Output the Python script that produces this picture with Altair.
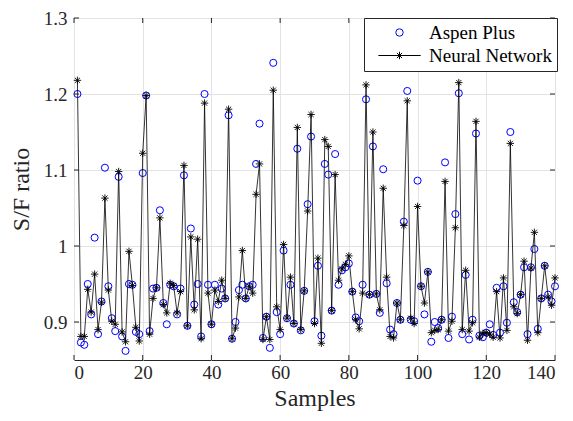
import altair as alt
import pandas as pd

samples = list(range(1, 141))

aspen = [1.200, 0.873, 0.870, 0.950, 0.910, 1.011, 0.884, 0.927, 1.103, 0.947,
         0.905, 0.888, 1.091, 0.881, 0.862, 0.950, 0.949, 0.887, 0.884, 1.096,
         1.198, 0.888, 0.944, 0.945, 1.047, 0.925, 0.897, 0.949, 0.947, 0.910,
         0.944, 1.093, 0.895, 1.023, 0.923, 0.950, 0.881, 1.200, 0.949, 0.897,
         0.949, 0.923, 0.944, 0.931, 1.172, 0.878, 0.900, 0.942, 0.949, 0.931,
         0.947, 0.949, 1.108, 1.161, 0.879, 0.907, 0.866, 1.241, 0.913, 0.884,
         0.994, 0.905, 0.949, 0.898, 1.128, 0.889, 0.941, 1.055, 1.144, 0.901,
         0.974, 0.882, 1.108, 1.094, 0.915, 1.121, 0.949, 0.968, 0.972, 0.977,
         0.940, 0.906, 0.901, 0.949, 1.193, 0.936, 1.131, 0.937, 0.912, 1.101,
         0.951, 0.890, 0.884, 0.925, 0.903, 1.032, 1.204, 0.903, 0.901, 1.086,
         0.947, 0.910, 0.966, 0.874, 0.900, 0.892, 0.903, 1.110, 0.879, 0.907,
         1.042, 1.201, 0.884, 0.962, 0.877, 0.903, 1.148, 0.882, 0.880, 0.886,
         0.897, 0.883, 0.945, 0.886, 0.947, 0.899, 1.150, 0.926, 0.913, 0.936,
         0.972, 0.884, 0.972, 0.996, 0.891, 0.931, 0.974, 0.936, 0.927, 0.947]

neural = [1.218, 0.881, 0.881, 0.943, 0.913, 0.963, 0.890, 0.926, 1.063, 0.942,
          0.901, 0.897, 1.098, 0.887, 0.874, 0.993, 0.948, 0.893, 0.875, 1.122,
          1.198, 0.884, 0.931, 0.945, 1.037, 0.923, 0.912, 0.951, 0.948, 0.912,
          0.940, 1.106, 0.895, 1.012, 0.916, 1.009, 0.878, 1.188, 0.938, 0.897,
          0.942, 0.927, 0.955, 0.931, 1.180, 0.878, 0.892, 0.933, 0.994, 0.931,
          0.947, 0.938, 1.068, 1.108, 0.877, 0.907, 0.877, 1.205, 0.920, 0.890,
          1.002, 0.905, 0.959, 0.898, 1.156, 0.890, 0.941, 1.046, 1.173, 0.898,
          0.984, 0.872, 1.140, 1.131, 0.915, 1.094, 0.955, 0.970, 0.976, 0.987,
          0.940, 0.903, 0.891, 0.938, 1.212, 0.936, 1.150, 0.937, 0.916, 1.076,
          0.959, 0.881, 0.879, 0.925, 0.903, 1.027, 1.191, 0.905, 0.898, 1.052,
          0.947, 0.925, 0.966, 0.886, 0.889, 0.890, 0.903, 1.085, 0.888, 0.901,
          1.024, 1.215, 0.890, 0.968, 0.888, 0.899, 1.164, 0.880, 0.885, 0.886,
          0.884, 0.880, 0.940, 0.879, 0.958, 0.889, 1.135, 0.920, 0.911, 0.936,
          0.980, 0.876, 0.971, 1.018, 0.886, 0.931, 0.974, 0.933, 0.922, 0.958]

series_names = ["Aspen Plus", "Neural Network"]
x_ticks = [0, 20, 40, 60, 80, 100, 120, 140]
y_ticks = [0.9, 1.0, 1.1, 1.2, 1.3]

W, H = 481, 342
FONT = "Liberation Serif"
INK = "#262626"
STAR = "M-1,0L1,0M0,-1L0,1M-0.7,-0.7L0.7,0.7M-0.7,0.7L0.7,-0.7"
LEG_STAR = "M-5.7,0L5.7,0M0,-1L0,1M-0.7,-0.7L0.7,0.7M-0.7,0.7L0.7,-0.7"

df_a = pd.DataFrame({"Samples": samples, "v": aspen, "series": series_names[0]})
df_n = pd.DataFrame({"Samples": samples, "v": neural, "series": series_names[1]})
df_xt = pd.DataFrame({"t": x_ticks})
df_yt = pd.DataFrame({"t": y_ticks})

xs = alt.Scale(domain=[0, 140], nice=False, zero=False)
ys = alt.Scale(domain=[0.85, 1.3], nice=False, zero=False)

X = alt.X("Samples:Q", scale=xs,
          axis=alt.Axis(values=x_ticks, title="Samples", format="d"))
Y = alt.Y("v:Q", scale=ys,
          axis=alt.Axis(values=y_ticks, title="S/F ratio", format=".2~f"))

leg = dict(orient="none", legendX=290, legendY=0, title=None,
           strokeColor=INK, fillColor="white", padding=5,
           symbolOffset=21, labelOffset=20, labelFont=FONT,
           labelFontSize=19, labelColor="black", rowPadding=3,
           symbolStrokeWidth=1, symbolSize=55, cornerRadius=0,
           labelLimit=300)

circles = alt.Chart(df_a).mark_point(filled=False, size=50, strokeWidth=1,
                                     opacity=1).encode(
    x=X, y=Y,
    color=alt.Color("series:N",
                    scale=alt.Scale(domain=series_names, range=["#0000ff", "#000000"]),
                    legend=alt.Legend(**leg)),
    shape=alt.Shape("series:N",
                    scale=alt.Scale(domain=series_names, range=["circle", LEG_STAR]),
                    legend=alt.Legend(**leg)),
)

line = alt.Chart(df_n).mark_line(color="black", strokeWidth=0.8).encode(
    x=alt.X("Samples:Q", scale=xs), y=alt.Y("v:Q", scale=ys))

stars = alt.Chart(df_n).mark_point(shape=STAR, size=55, color="black",
                                   strokeWidth=0.9, filled=False, opacity=1).encode(
    x=alt.X("Samples:Q", scale=xs), y=alt.Y("v:Q", scale=ys))

tick_len = 5
yt_left = alt.Chart(df_yt).mark_rule(color=INK, strokeWidth=1).encode(
    y=alt.Y("t:Q", scale=ys), x=alt.value(0), x2=alt.value(tick_len))
yt_right = alt.Chart(df_yt).mark_rule(color=INK, strokeWidth=1).encode(
    y=alt.Y("t:Q", scale=ys), x=alt.value(W - tick_len), x2=alt.value(W))
xt_bot = alt.Chart(df_xt).mark_rule(color=INK, strokeWidth=1).encode(
    x=alt.X("t:Q", scale=xs), y=alt.value(H - tick_len), y2=alt.value(H))
xt_top = alt.Chart(df_xt).mark_rule(color=INK, strokeWidth=1).encode(
    x=alt.X("t:Q", scale=xs), y=alt.value(0), y2=alt.value(tick_len))

chart = alt.layer(circles, line, stars, yt_left, yt_right, xt_bot, xt_top).properties(
    width=W, height=H,
    autosize=alt.AutoSizeParams(type="none"),
    padding={"left": 66, "top": 10, "right": 10, "bottom": 52},
).configure_view(
    stroke=INK, strokeWidth=1
).configure_axis(
    domain=False, ticks=False, grid=True, gridColor="#e3e3e3", gridWidth=1,
    labelFont=FONT, labelFontSize=19, labelColor=INK,
    titleFont=FONT, titleFontSize=24, titleColor=INK, titleFontWeight="normal",
).configure_axisY(titlePadding=10, labelPadding=7).configure_axisX(
    titlePadding=4, labelPadding=3)

chart.save("out.html", embed_options={"renderer": "svg", "actions": False})
